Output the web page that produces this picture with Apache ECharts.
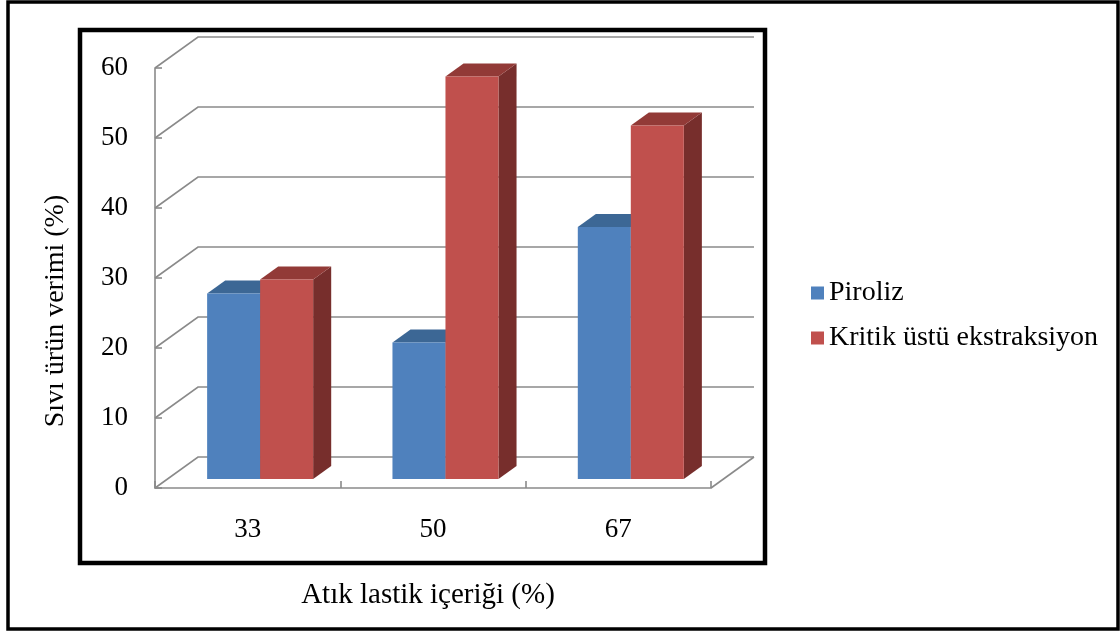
<!DOCTYPE html>
<html>
<head>
<meta charset="utf-8">
<title>Sıvı ürün verimi</title>
<script src="https://cdn.jsdelivr.net/npm/echarts@6/dist/echarts.min.js"></script>
<style>
  html, body { margin: 0; padding: 0; background: #fff; }
  #chart { width: 1120px; height: 631px; }
</style>
</head>
<body>
<div id="chart"></div>
<script>
// Data
const categories = ['33', '50', '67'];
const seriesNames = ['Piroliz', 'Kritik üstü ekstraksiyon'];
const pirolizValues = [26.5, 19.5, 36];
const kritikValues = [28.5, 57.5, 50.5];
const yTicks = [0, 10, 20, 30, 40, 50, 60];

// Styling for the oblique 3D look
const FONT = '"Liberation Serif", "Times New Roman", Times, serif';
const GRID_COLOR = '#8a8a8a';
const DEPTH = [43, -31];          // wall depth offset in pixels
const BAR_FRONT = 0.29;           // bar front plane as a fraction of the depth
const BAR_BACK = 0.71;            // bar back plane
const BAR_FRACTION = 0.286;       // one bar's width as a share of a category band
const faces = [
  { front: '#4F81BD', top: '#3C6795', side: '#355C89' },
  { front: '#C0504D', top: '#923A37', side: '#772E2C' }
];

const chart = echarts.init(document.getElementById('chart'), null, { renderer: 'canvas' });

// Back-wall gridlines: front axis -> back corner -> along the back wall
function renderGrid(params, api) {
  const cs = params.coordSys;
  const v = api.value(0);
  const y = api.coord([0, v])[1];
  const x0 = cs.x, x1 = cs.x + cs.width;
  const children = [{
    type: 'polyline',
    shape: { points: [[x0, y], [x0 + DEPTH[0], y + DEPTH[1]], [x1 + DEPTH[0], y + DEPTH[1]]] },
    style: { stroke: GRID_COLOR, lineWidth: 1.6, fill: null }
  }];
  if (v === 0) {
    // right edge of the floor
    children.push({
      type: 'line',
      shape: { x1: x1, y1: y, x2: x1 + DEPTH[0], y2: y + DEPTH[1] },
      style: { stroke: GRID_COLOR, lineWidth: 1.6 }
    });
  }
  return { type: 'group', children: children };
}

// A box-shaped bar: front face, top face and right side face
function makeBarRenderer(s) {
  return function (params, api) {
    const cat = api.value(0);
    const val = api.value(1);
    const base = api.coord([cat, 0]);
    const topPt = api.coord([cat, val]);
    const band = api.size([1, 0])[0];
    const w = band * BAR_FRACTION;
    const fx = BAR_FRONT * DEPTH[0], fy = BAR_FRONT * DEPTH[1];
    const dx = (BAR_BACK - BAR_FRONT) * DEPTH[0], dy = (BAR_BACK - BAR_FRONT) * DEPTH[1];
    const left = base[0] - w + fx + s * w;
    const top = topPt[1] + fy;
    const bottom = base[1] + fy;
    const c = faces[s];
    return {
      type: 'group',
      children: [
        {
          type: 'polygon',
          shape: { points: [[left + w, top], [left + w + dx, top + dy], [left + w + dx, bottom + dy], [left + w, bottom]] },
          style: { fill: c.side }
        },
        {
          type: 'polygon',
          shape: { points: [[left, top], [left + dx, top + dy], [left + w + dx, top + dy], [left + w, top]] },
          style: { fill: c.top }
        },
        {
          type: 'rect',
          shape: { x: left, y: top, width: w, height: bottom - top },
          style: { fill: c.front }
        }
      ]
    };
  };
}

const option = {
  animation: false,
  backgroundColor: '#ffffff',
  color: [faces[0].front, faces[1].front],
  textStyle: { fontFamily: FONT },
  grid: { left: 155, top: 68, width: 556, height: 420 },
  legend: {
    orient: 'vertical',
    left: 806,
    top: 274,
    itemWidth: 13,
    itemHeight: 13,
    itemGap: 17,
    icon: 'rect',
    data: seriesNames,
    textStyle: { fontFamily: FONT, fontSize: 28, color: '#000' }
  },
  xAxis: {
    type: 'category',
    data: categories,
    boundaryGap: true,
    axisLine: { show: true, lineStyle: { color: GRID_COLOR, width: 1.6 } },
    axisTick: { show: true, inside: true, length: 7, lineStyle: { color: GRID_COLOR, width: 1.6 } },
    axisLabel: { fontFamily: FONT, fontSize: 27, color: '#000', margin: 28 },
    splitLine: { show: false }
  },
  yAxis: {
    type: 'value',
    min: 0,
    max: 60,
    interval: 10,
    axisLine: { show: true, lineStyle: { color: GRID_COLOR, width: 1.6 } },
    axisTick: { show: true, inside: true, length: 7, lineStyle: { color: GRID_COLOR, width: 1.6 } },
    axisLabel: { fontFamily: FONT, fontSize: 27, color: '#000', margin: 27 },
    splitLine: { show: false }
  },
  graphic: [
    {
      type: 'rect', z: 100, silent: true,
      shape: { x: 8, y: 2, width: 1110, height: 627 },
      style: { fill: null, stroke: '#000', lineWidth: 3.5 }
    },
    {
      type: 'rect', z: 100, silent: true,
      shape: { x: 80, y: 30, width: 685, height: 533 },
      style: { fill: null, stroke: '#000', lineWidth: 4.5 }
    },
    {
      type: 'text', z: 100, silent: true,
      x: 428, y: 595,
      style: { text: 'Atık lastik içeriği (%)', fontFamily: FONT, fontSize: 29, fill: '#000', align: 'center', verticalAlign: 'middle' }
    },
    {
      type: 'text', z: 100, silent: true,
      x: 56, y: 311, rotation: Math.PI / 2,
      style: { text: 'Sıvı ürün verimi (%)', fontFamily: FONT, fontSize: 28, fill: '#000', align: 'center', verticalAlign: 'middle' }
    }
  ],
  series: [
    {
      name: 'walls',
      type: 'custom',
      z: 1,
      silent: true,
      renderItem: renderGrid,
      encode: { y: 0 },
      data: yTicks.map(v => [v])
    },
    {
      name: seriesNames[0],
      type: 'custom',
      z: 2,
      itemStyle: { color: faces[0].front },
      renderItem: makeBarRenderer(0),
      encode: { x: 0, y: 1 },
      data: pirolizValues.map((v, i) => [i, v])
    },
    {
      name: seriesNames[1],
      type: 'custom',
      z: 3,
      itemStyle: { color: faces[1].front },
      renderItem: makeBarRenderer(1),
      encode: { x: 0, y: 1 },
      data: kritikValues.map((v, i) => [i, v])
    }
  ]
};

chart.setOption(option);
</script>
</body>
</html>
